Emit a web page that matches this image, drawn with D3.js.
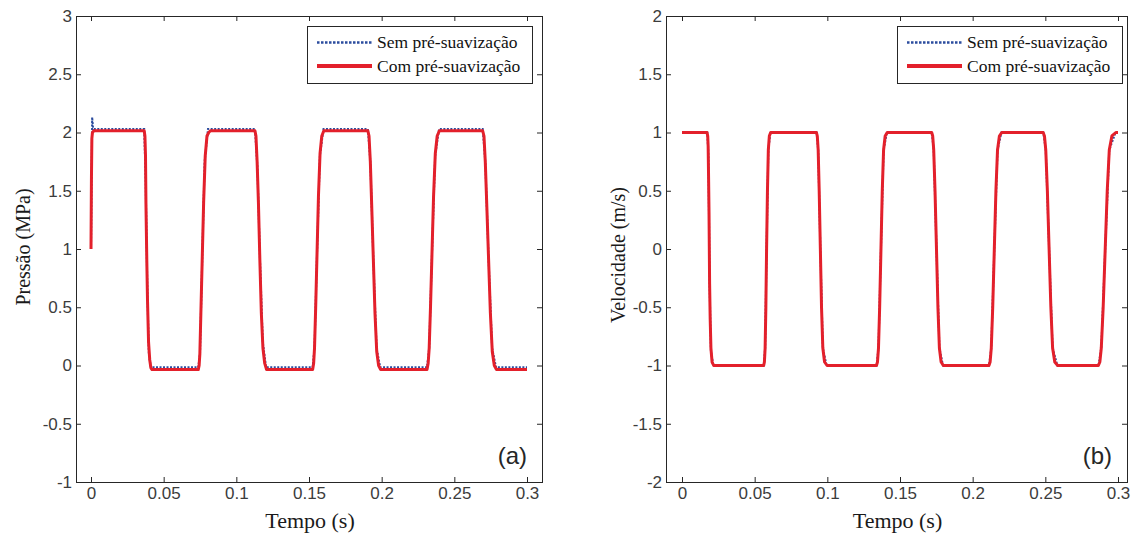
<!DOCTYPE html>
<meta charset="utf-8">
<script src="https://cdn.jsdelivr.net/npm/d3@7"></script>
<style>
body { margin: 0; background: #fff; }
.tick text { font-family: "Liberation Sans", Arial, sans-serif; font-size: 17px; fill: #3c3c3c; }
.tick line { stroke: #262626; }
.frame { fill: none; stroke: #262626; stroke-width: 1px; }
.title { font-family: "Liberation Serif", "Times New Roman", serif; font-size: 20px; fill: #1a1a1a; }
.xtitle { font-size: 22px; }
.legtext { font-family: "Liberation Serif", "Times New Roman", serif; font-size: 17.5px; fill: #111; }
.tag { font-family: "Liberation Sans", Arial, sans-serif; font-size: 24px; fill: #262626; }
</style>
<body>
<script>

// tempo (s) / valor
var pressureSem = [
  [0,1.0],[0.0008,2.13],[0.0014,2.04],[0.002,2.03],
  [0.0366,2.03],[0.0376,1.6],[0.0387,0.7],[0.0398,0.1],[0.0412,-0.015],
  [0.0738,-0.015],[0.075,0.1],[0.0765,0.9],[0.0782,1.75],[0.0805,2.03],
  [0.1128,2.03],[0.1145,1.7],[0.1163,0.9],[0.1182,0.2],[0.1205,-0.015],
  [0.1525,-0.015],[0.1538,0.15],[0.1555,0.95],[0.1575,1.8],[0.16,2.03],
  [0.1905,2.03],[0.1922,1.75],[0.1943,0.9],[0.1965,0.15],[0.199,-0.015],
  [0.2312,-0.015],[0.2327,0.15],[0.2346,0.95],[0.2368,1.8],[0.2395,2.03],
  [0.2695,2.03],[0.2713,1.75],[0.2736,0.9],[0.276,0.15],[0.2787,-0.015],
  [0.3,-0.015]
];
var pressureCom = [
  [0,1.0],[0.0003,1.6],[0.0006,1.95],[0.001,2.0],[0.002,2.015],
  [0.0366,2.015],[0.0371,1.97],[0.0375,1.8],[0.0378,1.4],[0.0384,0.9],[0.0389,0.55],[0.0396,0.2],[0.0404,0.05],[0.0412,-0.02],[0.042,-0.035],
  [0.0738,-0.035],[0.0744,0.0],[0.0749,0.1],[0.0756,0.45],[0.0765,0.9],[0.0775,1.4],[0.0786,1.8],[0.0798,1.97],[0.081,2.0],[0.0822,2.015],
  [0.1128,2.015],[0.1135,1.97],[0.1143,1.75],[0.1152,1.4],[0.1162,0.9],[0.1172,0.45],[0.1183,0.15],[0.1195,0.02],[0.1208,-0.035],
  [0.1525,-0.035],[0.1532,0.02],[0.1538,0.15],[0.1546,0.5],[0.1555,0.95],[0.1565,1.45],[0.1576,1.82],[0.1588,1.97],[0.1602,2.015],
  [0.1905,2.015],[0.1913,1.97],[0.1922,1.75],[0.1932,1.35],[0.1943,0.9],[0.1954,0.45],[0.1966,0.12],[0.1979,0.0],[0.1993,-0.035],
  [0.2312,-0.035],[0.232,0.02],[0.2327,0.15],[0.2336,0.5],[0.2346,0.95],[0.2357,1.45],[0.2369,1.82],[0.2382,1.97],[0.2397,2.015],
  [0.2695,2.015],[0.2704,1.97],[0.2713,1.75],[0.2724,1.35],[0.2736,0.9],[0.2748,0.45],[0.2761,0.12],[0.2775,0.0],[0.279,-0.035],
  [0.3,-0.035]
];

var velocitySem = [
  [0,1],[0.0174,1],[0.0182,0.8],[0.019,-0.3],[0.0199,-0.88],[0.0216,-1],
  [0.0563,-1],[0.0572,-0.85],[0.0582,0.0],[0.0594,0.85],[0.0608,1],
  [0.0926,1],[0.0937,0.85],[0.0952,0.0],[0.0969,-0.85],[0.0995,-1],
  [0.1339,-1],[0.1352,-0.85],[0.1369,0.0],[0.1387,0.85],[0.141,1],
  [0.1719,1],[0.1732,0.85],[0.1751,0.0],[0.1771,-0.85],[0.1796,-1],
  [0.2113,-1],[0.2128,-0.85],[0.2149,0.0],[0.2171,0.85],[0.2198,1],
  [0.2486,1],[0.2503,0.85],[0.2526,0.0],[0.255,-0.85],[0.2583,-1],
  [0.2866,-1],[0.2885,-0.85],[0.2912,0.0],[0.294,0.85],[0.2983,1],[0.3,1]
];
var velocityCom = [
  [0,1],[0.0172,1],[0.0177,0.97],[0.018,0.88],[0.0183,0.6],[0.0186,0.3],[0.019,-0.3],[0.0194,-0.6],[0.0199,-0.85],[0.0207,-0.97],[0.0218,-1],
  [0.0562,-1],[0.0567,-0.97],[0.0572,-0.85],[0.0577,-0.5],[0.0582,0.0],[0.0588,0.5],[0.0594,0.85],[0.0601,0.97],[0.061,1],
  [0.0925,1],[0.0931,0.97],[0.0937,0.85],[0.0944,0.5],[0.0952,0.0],[0.096,-0.5],[0.0969,-0.85],[0.0981,-0.97],[0.0998,-1],
  [0.1338,-1],[0.1345,-0.97],[0.1352,-0.85],[0.136,-0.5],[0.1369,0.0],[0.1378,0.5],[0.1387,0.85],[0.1398,0.97],[0.1412,1],
  [0.1718,1],[0.1725,0.97],[0.1732,0.85],[0.1741,0.5],[0.1751,0.0],[0.1761,-0.5],[0.1771,-0.85],[0.1783,-0.97],[0.1798,-1],
  [0.2112,-1],[0.212,-0.97],[0.2128,-0.85],[0.2138,-0.5],[0.2149,0.0],[0.216,0.5],[0.2171,0.85],[0.2184,0.97],[0.22,1],
  [0.2485,1],[0.2494,0.97],[0.2503,0.85],[0.2514,0.5],[0.2526,0.0],[0.2538,-0.5],[0.255,-0.85],[0.2565,-0.97],[0.2585,-1],
  [0.2865,-1],[0.2875,-0.97],[0.2885,-0.85],[0.2898,-0.5],[0.2912,0.0],[0.2926,0.5],[0.294,0.85],[0.2958,0.97],[0.2985,1],[0.3,1]
];

var xTicks = [0, 0.05, 0.1, 0.15, 0.2, 0.25, 0.3];
var xTickLabels = ["0", "0.05", "0.1", "0.15", "0.2", "0.25", "0.3"];
var pTicks = [-1, -0.5, 0, 0.5, 1, 1.5, 2, 2.5, 3];
var pTickLabels = ["-1", "-0.5", "0", "0.5", "1", "1.5", "2", "2.5", "3"];
var vTicks = [-2, -1.5, -1, -0.5, 0, 0.5, 1, 1.5, 2];
var vTickLabels = ["-2", "-1.5", "-1", "-0.5", "0", "0.5", "1", "1.5", "2"];
var seriesNames = ["Sem pré-suavização", "Com pré-suavização"];

var W = 1131, H = 538;
var svg = d3.select("body").append("svg")
    .attr("width", W)
    .attr("height", H);

function panel(o) {
  var x = d3.scaleLinear().domain([0, 0.3]).range([o.x0, o.x3]);
  var y = d3.scaleLinear().domain(o.ydom).range([o.bottom, o.top]);
  var g = svg.append("g");

  var fmt = function(list, labels) { return function(d) { return labels[list.indexOf(d)]; }; };

  g.append("g").attr("transform", "translate(0," + o.bottom + ")")
    .call(d3.axisBottom(x).tickValues(xTicks).tickFormat(fmt(xTicks, xTickLabels)).tickSizeInner(-5).tickSizeOuter(0).tickPadding(5))
    .select(".domain").remove();
  g.append("g").attr("transform", "translate(0," + o.top + ")")
    .call(d3.axisTop(x).tickValues(xTicks).tickFormat("").tickSizeInner(-5).tickSizeOuter(0))
    .select(".domain").remove();
  g.append("g").attr("transform", "translate(" + o.left + ",0)")
    .call(d3.axisLeft(y).tickValues(o.yticks).tickFormat(fmt(o.yticks, o.ylabels)).tickSizeInner(-5).tickSizeOuter(0).tickPadding(4))
    .select(".domain").remove();
  g.append("g").attr("transform", "translate(" + o.right + ",0)")
    .call(d3.axisRight(y).tickValues(o.yticks).tickFormat("").tickSizeInner(-5).tickSizeOuter(0))
    .select(".domain").remove();

  g.append("rect").attr("class", "frame")
    .attr("x", o.left + 0.5).attr("y", o.top + 0.5)
    .attr("width", o.right - o.left).attr("height", o.bottom - o.top);

  var line = d3.line().x(function(d) { return x(d[0]); }).y(function(d) { return y(d[1]); });

  g.append("path").datum(o.sem)
    .attr("d", line)
    .attr("fill", "none").attr("stroke", "#2b4c9e").attr("stroke-width", 2)
    .attr("stroke-dasharray", "2,1.5");
  g.append("path").datum(o.com)
    .attr("d", line)
    .attr("fill", "none").attr("stroke", "#e3202b").attr("stroke-width", 3)
    .attr("stroke-linejoin", "round");

  // legenda
  var lg = g.append("g").attr("transform", "translate(" + o.legX + "," + o.legY + ")");
  lg.append("rect").attr("x", 0.5).attr("y", 0.5).attr("width", 225).attr("height", 57)
    .attr("fill", "#fff").attr("stroke", "#262626");
  lg.append("line").attr("x1", 10).attr("x2", 65).attr("y1", 16.5).attr("y2", 16.5)
    .attr("stroke", "#2b4c9e").attr("stroke-width", 2.5).attr("stroke-dasharray", "2.5,1.5");
  lg.append("line").attr("x1", 10).attr("x2", 65).attr("y1", 40).attr("y2", 40)
    .attr("stroke", "#e3202b").attr("stroke-width", 4);
  lg.append("text").attr("class", "legtext").attr("x", 70).attr("y", 22).text(seriesNames[0]);
  lg.append("text").attr("class", "legtext").attr("x", 70).attr("y", 45.5).text(seriesNames[1]);

  g.append("text").attr("class", "title xtitle")
    .attr("x", (o.left + o.right) / 2 + 1).attr("y", 528)
    .attr("text-anchor", "middle").text("Tempo (s)");
  g.append("text").attr("class", "title")
    .attr("transform", "translate(" + o.ylabX + "," + o.ylabY + ") rotate(-90)")
    .attr("text-anchor", "middle").text(o.ytitle);

  g.append("text").attr("class", "tag")
    .attr("x", o.right - 15).attr("y", 464)
    .attr("text-anchor", "end").text(o.tag);
}

panel({
  left: 76, right: 542, top: 16, bottom: 482, x0: 91, x3: 527,
  ydom: [-1, 3], yticks: pTicks, ylabels: pTickLabels,
  sem: pressureSem, com: pressureCom,
  legX: 307, legY: 26, ylabX: 30, ylabY: 247, ytitle: "Pressão (MPa)", tag: "(a)"
});
panel({
  left: 666, right: 1127, top: 16, bottom: 482, x0: 682, x3: 1118,
  ydom: [-2, 2], yticks: vTicks, ylabels: vTickLabels,
  sem: velocitySem, com: velocityCom,
  legX: 897, legY: 26, ylabX: 625, ylabY: 255, ytitle: "Velocidade (m/s)", tag: "(b)"
});

</script>
</body>
